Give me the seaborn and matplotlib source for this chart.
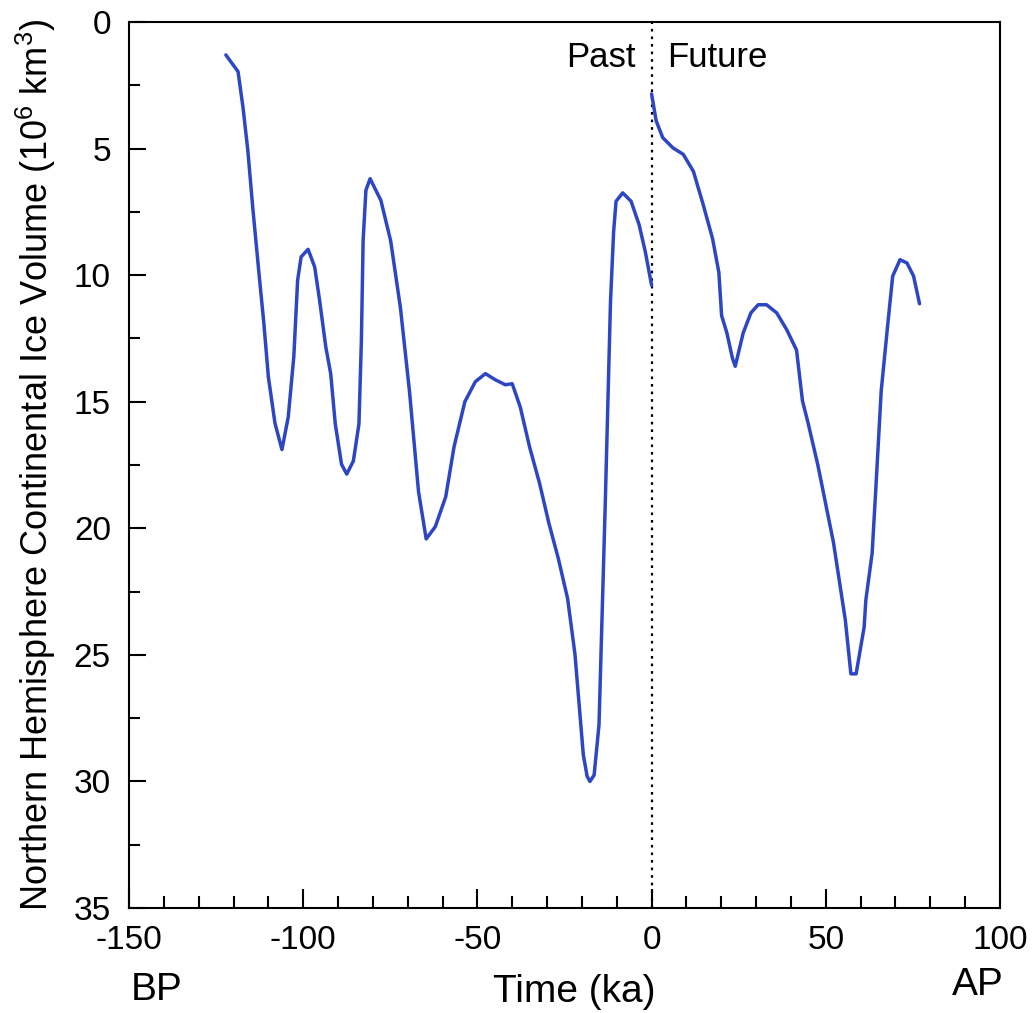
import numpy as np
import pandas as pd
import matplotlib.pyplot as plt
import seaborn as sns
from matplotlib.ticker import MultipleLocator

# Past reconstruction: time (ka, negative = before present) and ice volume (10^6 km^3)
past_time = [-122.2, -118.7, -117.3, -115.9, -114.5, -112.7, -111.3, -110.0, -108.1, -106.1,
             -104.3, -102.7, -101.6, -100.6, -98.6, -96.7, -95.3, -93.5, -92.1, -90.8,
             -89.0, -87.5, -85.6, -84.0, -83.3, -82.8, -82.0, -80.8, -77.7, -74.9,
             -72.1, -69.5, -66.9, -65.5, -64.7, -62.1, -59.1, -56.7, -53.6, -50.6,
             -47.7, -44.9, -42.0, -40.0, -37.7, -35.0, -32.2, -29.5, -26.8, -24.1,
             -22.0, -20.8, -19.6, -18.5, -17.7, -16.5, -15.1, -13.3, -11.8, -10.9,
             -10.2, -8.3, -5.9, -3.6, -1.8, 0.0]
past_volume = [1.3, 1.96, 3.35, 5.06, 7.3, 9.92, 11.89, 14.02, 15.85, 16.89,
               15.61, 13.23, 10.2, 9.28, 8.98, 9.68, 10.99, 12.85, 13.9, 15.87,
               17.47, 17.86, 17.34, 15.88, 12.59, 8.63, 6.65, 6.19, 7.05, 8.64,
               11.28, 14.58, 18.55, 19.74, 20.42, 19.94, 18.76, 16.78, 15.0, 14.21,
               13.89, 14.13, 14.33, 14.29, 15.21, 16.8, 18.2, 19.79, 21.18, 22.78,
               24.97, 26.96, 28.95, 29.8, 30.0, 29.75, 27.77, 19.02, 11.06, 8.28,
               7.08, 6.75, 7.08, 8.0, 9.08, 10.4]

# Model projection into the future
future_time = [0.0, 1.3, 3.2, 6.1, 9.1, 12.0, 14.8, 17.5, 19.3, 20.1,
               21.6, 23.2, 24.0, 26.3, 28.5, 30.6, 33.0, 35.9, 38.8, 41.6,
               43.3, 45.0, 47.7, 52.2, 55.6, 57.2, 58.7, 61.0, 61.5, 63.3,
               64.3, 65.9, 67.8, 69.2, 71.3, 73.3, 75.2, 76.9]
future_volume = [2.84, 3.9, 4.57, 4.97, 5.23, 5.9, 7.21, 8.56, 9.89, 11.6,
                 12.28, 13.28, 13.6, 12.28, 11.49, 11.17, 11.17, 11.49, 12.16, 12.96,
                 14.96, 15.89, 17.49, 20.56, 23.62, 25.75, 25.75, 23.91, 22.83, 20.98,
                 18.58, 14.58, 11.92, 10.04, 9.39, 9.52, 10.04, 11.13]

x_ticks = [-150, -100, -50, 0, 50, 100]
y_ticks = [0, 5, 10, 15, 20, 25, 30, 35]

df = pd.concat([
    pd.DataFrame({"time": past_time, "volume": past_volume, "segment": "past"}),
    pd.DataFrame({"time": future_time, "volume": future_volume, "segment": "future"}),
], ignore_index=True)

sns.set_theme(style="ticks")
plt.rcParams["font.family"] = ["Liberation Sans", "DejaVu Sans"]
plt.rcParams["mathtext.fontset"] = "custom"
plt.rcParams["mathtext.rm"] = "Liberation Sans"
plt.rcParams["axes.unicode_minus"] = False
# plain black text like the printed figure
plt.rcParams.update({"text.color": "black", "axes.labelcolor": "black",
                     "xtick.color": "black", "ytick.color": "black"})

fig = plt.figure(figsize=(10.35, 10.13), dpi=100)
ax = fig.add_axes([129 / 1035, 1 - 908 / 1013, (1000 - 129) / 1035, (908 - 22) / 1013])

line_color = "#2d46c4"
sns.lineplot(data=df, x="time", y="volume", units="segment", estimator=None,
             sort=False, color=line_color, linewidth=2.5, ax=ax,
             solid_joinstyle="round", solid_capstyle="round")

# present day marker
ax.axvline(0, color="black", linestyle=(0, (1.2, 2.2)), linewidth=1.6, zorder=1)
ax.text(-4.5, 1.4, "Past", ha="right", va="center", fontsize=25)
ax.text(4.5, 1.4, "Future", ha="left", va="center", fontsize=25)

ax.set_xlim(-150, 100)
ax.set_ylim(35, 0)
ax.set_xticks(x_ticks)
ax.set_yticks(y_ticks)
ax.xaxis.set_minor_locator(MultipleLocator(10))
ax.yaxis.set_minor_locator(MultipleLocator(2.5))
ax.tick_params(axis="both", which="both", direction="in", width=1.5, color="black",
               top=False, right=False)
ax.tick_params(axis="x", which="major", length=14, pad=12, labelsize=24)
ax.tick_params(axis="x", which="minor", length=8.5)
ax.tick_params(axis="y", which="major", length=12, pad=13, labelsize=24)
ax.tick_params(axis="y", which="minor", length=8)
for spine in ax.spines.values():
    spine.set_visible(True)
    spine.set_linewidth(1.5)
    spine.set_color("black")

ax.set_xlabel("Time (ka)", fontsize=28)
ax.xaxis.set_label_coords(0.511, -0.074)
ax.set_ylabel("Northern Hemisphere Continental Ice Volume (10$^{6}$ km$^{3}$)", fontsize=26)
ax.yaxis.set_label_coords(-0.082, 0.5)

fig.text(157 / 1035, 1 - 990 / 1013, "BP", ha="center", va="center", fontsize=28)
fig.text(978 / 1035, 1 - 985 / 1013, "AP", ha="center", va="center", fontsize=28)

fig.savefig("out.png", dpi=100)
plt.close(fig)
